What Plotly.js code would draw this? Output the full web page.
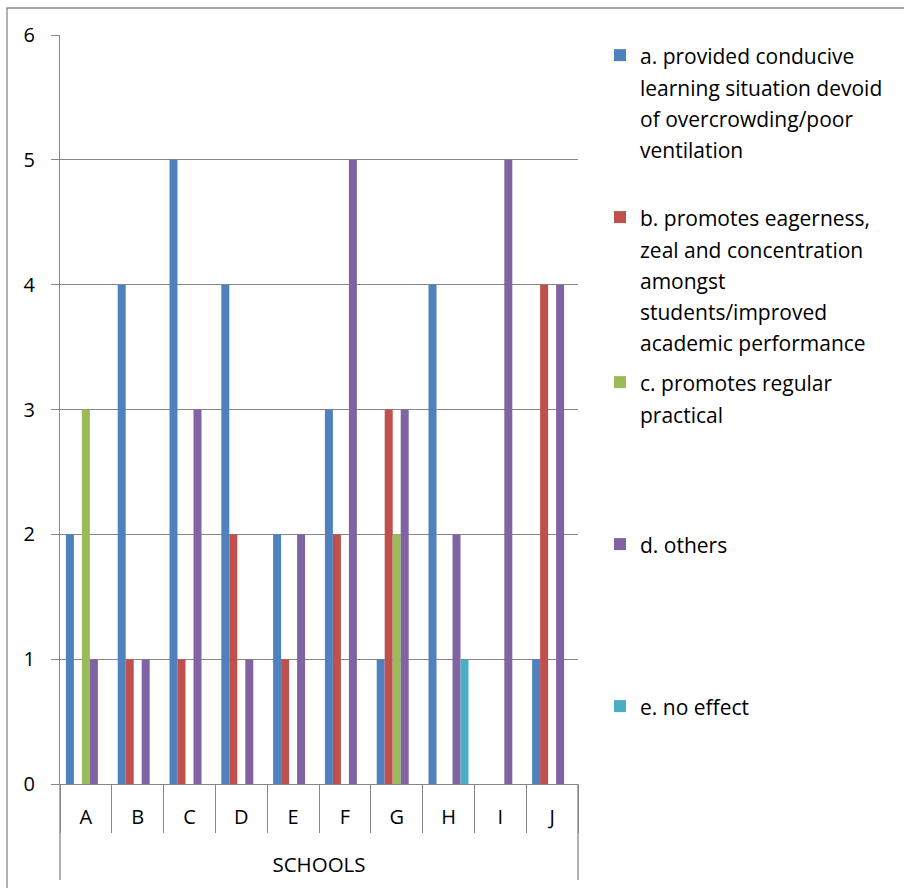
<!DOCTYPE html>
<html>
<head>
<meta charset="utf-8">
<script src="https://cdn.plot.ly/plotly-3.0.1.min.js"></script>
<style>
  html, body { margin: 0; padding: 0; background: #ffffff; }
  #chart { width: 904px; height: 888px; }
</style>
</head>
<body>
<div id="chart"></div>
<script>
// Schools surveyed and the number of responses per effect
const schools = ['A', 'B', 'C', 'D', 'E', 'F', 'G', 'H', 'I', 'J'];
const conduciveLearning = [2, 4, 5, 4, 2, 3, 1, 4, 0, 1];
const eagernessZeal     = [0, 1, 1, 2, 1, 2, 3, 0, 0, 4];
const regularPractical  = [3, 0, 0, 0, 0, 0, 2, 0, 0, 0];
const others            = [1, 1, 3, 1, 2, 5, 3, 2, 5, 4];
const noEffect          = [0, 0, 0, 0, 0, 0, 0, 1, 0, 0];

const seriesNameLines = [
  ['a. provided conducive', 'learning situation devoid', 'of overcrowding/poor', 'ventilation'],
  ['b. promotes eagerness,', 'zeal and concentration', 'amongst', 'students/improved', 'academic performance'],
  ['c. promotes regular', 'practical'],
  ['d. others'],
  ['e. no effect']
];
const seriesValues = [conduciveLearning, eagernessZeal, regularPractical, others, noEffect];
const seriesColors = ['#4F81BD', '#C0504D', '#9BBB59', '#8064A2', '#4BACC6'];
const yTicks = [0, 1, 2, 3, 4, 5, 6];

// Page geometry (pixels)
const W = 904, H = 888;
const M = { l: 60, r: 326, t: 35, b: 104 };
const plotW = W - M.l - M.r;
const plotH = H - M.t - M.b;
const px2x = px => (px - M.l) / plotW;
const px2y = py => (H - M.b - py) / plotH;

const gridGrey = '#878787';
const FONT = '"Open Sans", "Noto Sans", sans-serif';
const LEGEND_TEXT_SIZE = 21;   // drawn size of the legend text
const LEGEND_LINE_BASE = 24;   // base size that sets the legend line pitch

// legend text: each line drawn at LEGEND_TEXT_SIZE inside a taller line pitch
const legendLabel = lines => lines
  .map(t => `<span style="font-size:${LEGEND_TEXT_SIZE}px">${t}</span>`)
  .join('<br>');

const legendKeys = ['legend', 'legend2', 'legend3', 'legend4', 'legend5'];
const legendTops = [33, 195, 360, 522, 684];

const data = seriesValues.map((vals, i) => ({
  type: 'bar',
  name: legendLabel(seriesNameLines[i]),
  x: schools,
  y: vals,
  marker: { color: seriesColors[i] },
  legend: legendKeys[i],
  showlegend: true,
  hoverinfo: 'x+y'
}));

const layout = {
  width: W,
  height: H,
  margin: M,
  showlegend: true,
  paper_bgcolor: '#ffffff',
  plot_bgcolor: '#ffffff',
  font: { family: FONT, size: 20, color: '#000000' },
  barmode: 'group',
  bargap: 0.228,
  bargroupgap: 0,
  xaxis: {
    type: 'category',
    range: [-0.5, schools.length - 0.5],
    showgrid: false,
    showline: true,
    linecolor: gridGrey,
    linewidth: 1.3,
    ticks: 'outside',
    tickson: 'boundaries',
    ticklen: 48,
    tickwidth: 1.3,
    tickcolor: gridGrey,
    ticklabelposition: 'inside',
    ticklabelstandoff: -43,
    tickfont: { family: FONT, size: 20, color: '#000000' },
    title: { text: 'SCHOOLS', font: { family: FONT, size: 20.5, color: '#000000' }, standoff: 28 },
    fixedrange: true
  },
  yaxis: {
    range: [0, 6],
    tickvals: yTicks,
    ticktext: yTicks.map(String),
    showgrid: true,
    gridcolor: gridGrey,
    gridwidth: 1.3,
    zeroline: false,
    showline: true,
    linecolor: gridGrey,
    linewidth: 1.3,
    ticks: 'outside',
    ticklen: 8,
    tickwidth: 1.3,
    tickcolor: gridGrey,
    ticklabelstandoff: 12,
    tickfont: { family: FONT, size: 20, color: '#000000' },
    fixedrange: true
  },
  shapes: [
    // outer frame of the chart
    { type: 'rect', xref: 'paper', yref: 'paper',
      x0: px2x(7), x1: px2x(912), y0: px2y(8), y1: px2y(900),
      line: { color: gridGrey, width: 1.3 }, fillcolor: 'rgba(0,0,0,0)', layer: 'below' },
    // outer dividers of the category axis group
    { type: 'line', xref: 'paper', yref: 'paper', x0: 0, x1: 0, y0: 0, y1: px2y(880),
      line: { color: gridGrey, width: 1.3 } },
    { type: 'line', xref: 'paper', yref: 'paper', x0: 1, x1: 1, y0: 0, y1: px2y(880),
      line: { color: gridGrey, width: 1.3 } }
  ]
};

legendKeys.forEach((key, i) => {
  layout[key] = {
    visible: true,
    x: px2x(600),
    y: px2y(legendTops[i]),
    xanchor: 'left',
    yanchor: 'top',
    valign: 'top',
    bgcolor: 'rgba(0,0,0,0)',
    borderwidth: 0,
    font: { family: FONT, size: LEGEND_LINE_BASE, color: '#000000' },
    itemclick: false,
    itemdoubleclick: false
  };
});

Plotly.newPlot('chart', data, layout, { displayModeBar: false, responsive: false });
</script>
</body>
</html>
